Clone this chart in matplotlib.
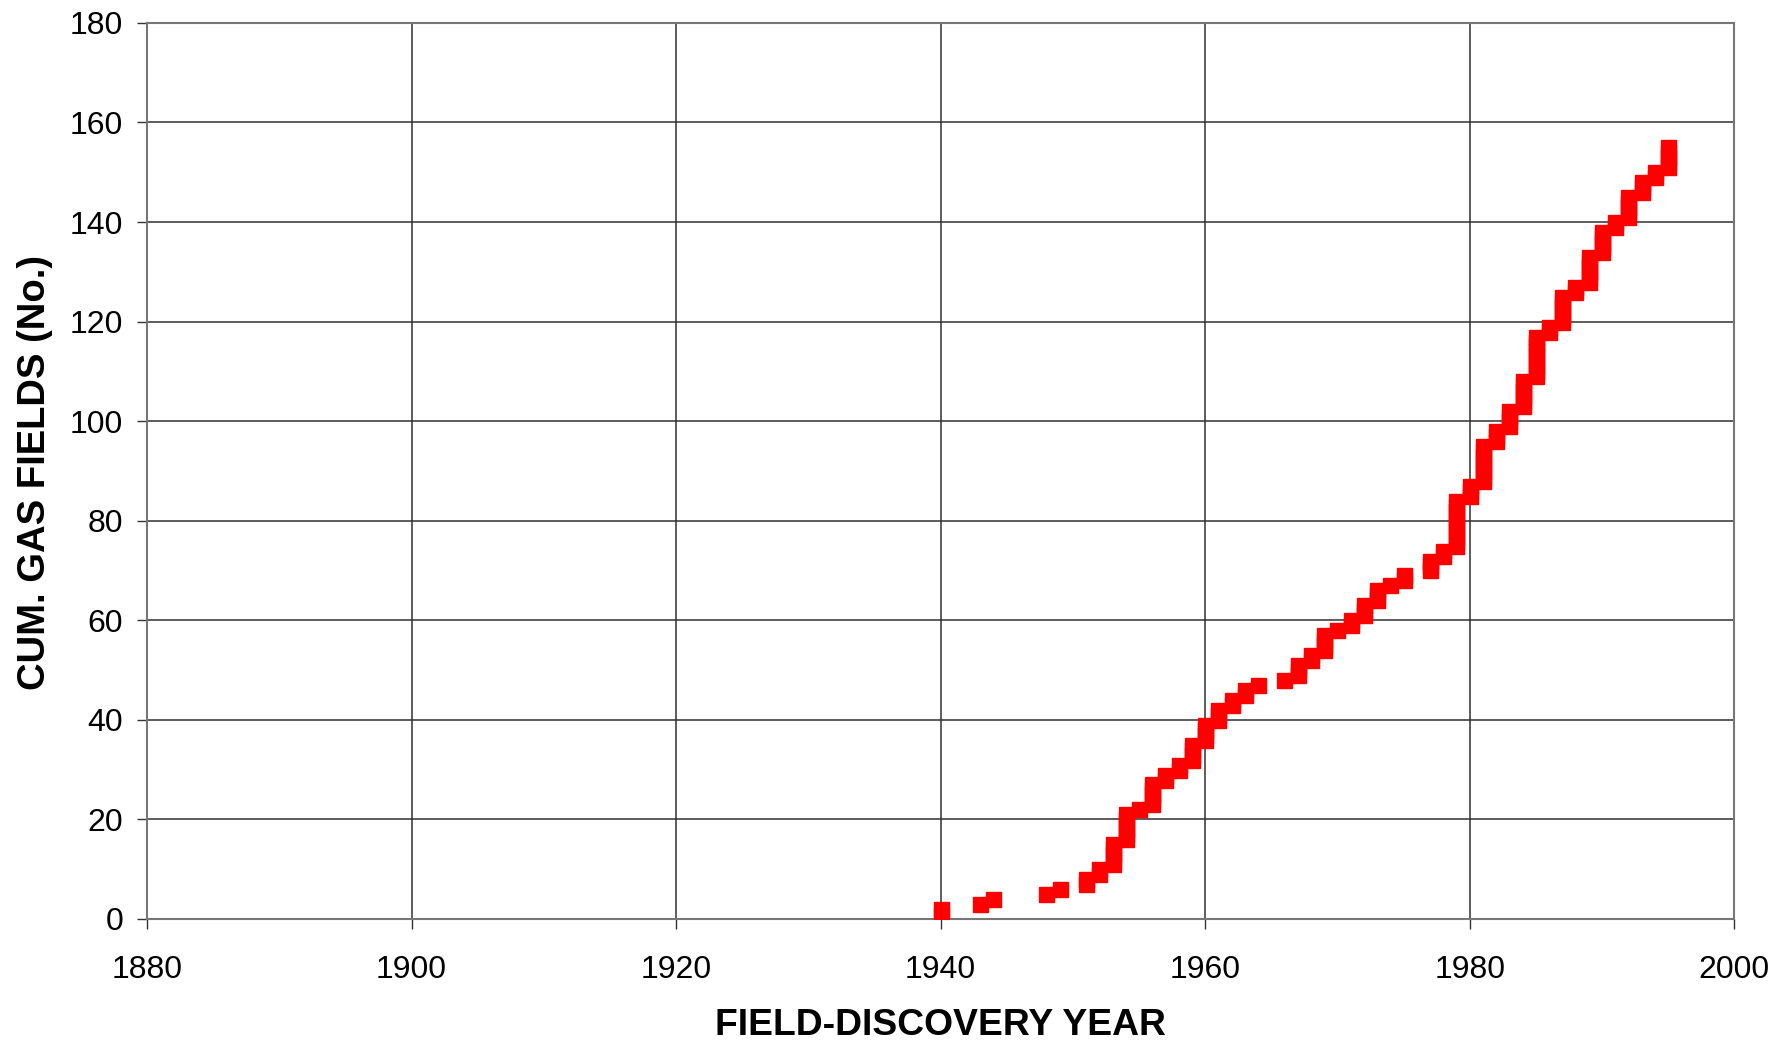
import numpy as np
import matplotlib.pyplot as plt

plt.rcParams['font.family'] = ['Liberation Sans', 'DejaVu Sans']

# discovery year and number of gas fields found that year
years = [1940, 1943, 1944, 1948, 1949, 1951, 1952, 1953, 1954, 1955,
         1956, 1957, 1958, 1959, 1960, 1961, 1962, 1963, 1964, 1966,
         1967, 1968, 1969, 1970, 1971, 1972, 1973, 1974, 1975, 1977,
         1978, 1979, 1980, 1981, 1982, 1983, 1984, 1985, 1986, 1987,
         1988, 1989, 1990, 1991, 1992, 1993, 1994, 1995]
fields_found = [2, 1, 1, 1, 1, 2, 2, 5, 6, 1,
                5, 2, 2, 4, 4, 3, 2, 2, 1, 1,
                3, 2, 4, 1, 2, 3, 3, 1, 2, 3,
                2, 10, 3, 8, 3, 4, 6, 9, 2, 6,
                2, 6, 5, 2, 5, 3, 2, 5]

x_ticks = [1880, 1900, 1920, 1940, 1960, 1980, 2000]
y_ticks = [0, 20, 40, 60, 80, 100, 120, 140, 160, 180]

# one point per field: (year, cumulative count)
field_year = np.repeat(years, fields_found)
cum_fields = np.arange(1, len(field_year) + 1)

fig = plt.figure(figsize=(17.75, 10.43), dpi=100)
ax = fig.add_axes([0.0828, 0.119, 0.8942, 0.859])

ax.plot(field_year, cum_fields, ls='none', marker='s', ms=10.8,
        color='#ff0000', mec='#ff0000', zorder=3)

ax.set_xlim(1880, 2000)
ax.set_ylim(0, 180)
ax.set_xticks(x_ticks)
ax.set_yticks(y_ticks)
ax.grid(True, color='#303030', lw=1.1)
for s in ax.spines.values():
    s.set_color('#777777')
    s.set_linewidth(1.5)
ax.tick_params(direction='out', length=7.2, width=1, labelsize=23,
               color='#333333')
ax.tick_params(axis='x', pad=19)
ax.tick_params(axis='y', pad=10)

ax.set_xlabel('FIELD-DISCOVERY YEAR', fontsize=26.8, fontweight='bold')
ax.set_ylabel('CUM. GAS FIELDS (No.)', fontsize=27.5, fontweight='bold')
ax.xaxis.set_label_coords(0.5, -0.099)
ax.yaxis.set_label_coords(-0.059, 0.498)

fig.savefig('out.png', dpi=100)
